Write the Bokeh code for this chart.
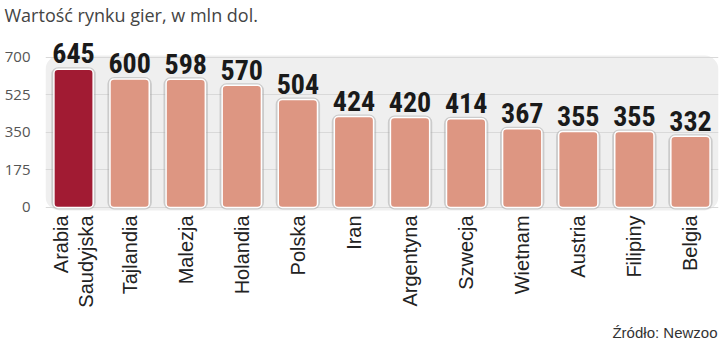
import math
from bokeh.plotting import figure
from bokeh.models import ColumnDataSource, Range1d, FixedTicker, BoxAnnotation, Label
from bokeh.transform import dodge
from bokeh.core.properties import value
from bokeh.embed import file_html
from bokeh.resources import INLINE

countries = ["Arabia Saudyjska", "Tajlandia", "Malezja", "Holandia", "Polska", "Iran",
             "Argentyna", "Szwecja", "Wietnam", "Austria", "Filipiny", "Belgia"]
country_labels = ["Arabia\nSaudyjska", "Tajlandia", "Malezja", "Holandia", "Polska", "Iran",
                  "Argentyna", "Szwecja", "Wietnam", "Austria", "Filipiny", "Belgia"]
values = [645, 600, 598, 570, 504, 424, 420, 414, 367, 355, 355, 332]
y_ticks = [0, 175, 350, 525, 700]
title_text = "Wartość rynku gier, w mln dol."
source_text = "Źródło: Newzoo"

colors = ["#A11B33"] + ["#DD9682"] * (len(countries) - 1)
src = ColumnDataSource(dict(x=countries, top=values, color=colors, name=country_labels,
                            label=[str(v) for v in values], zero=[0] * len(values)))

p = figure(x_range=countries, y_range=Range1d(-621, 826), width=720, height=342,
           output_backend="svg", toolbar_location=None,
           min_border_left=45, min_border_right=2, min_border_top=30, min_border_bottom=2)
p.x_range.range_padding = 0
p.background_fill_color = "white"
p.border_fill_color = "white"
p.outline_line_color = None

p.title.text = title_text
p.title.align = "left"
p.title.vertical_align = "top"
p.title.offset = -41
p.title.standoff = 4
p.title.text_font = "Open Sans"
p.title.text_font_style = "normal"
p.title.text_font_size = "18px"
p.title.text_color = "#444444"

bg = BoxAnnotation(bottom=-14, top=709, fill_color="#EFEFEF", fill_alpha=1, line_color=None,
                   border_radius=14, level="image")
p.add_layout(bg)

p.xgrid.grid_line_color = None
p.ygrid.ticker = FixedTicker(ticks=y_ticks)
p.ygrid.grid_line_color = "#D9D9D9"
p.ygrid.grid_line_width = 1

# shadow
p.vbar(x="x", top="top", bottom=0, width=0.72, source=src, fill_color=None,
       line_color="#A8A8A8", line_alpha=0.5, line_width=4, border_radius=5)
p.vbar(x="x", top="top", bottom=0, width=0.70, source=src, fill_color="color",
       line_color="white", line_width=1.5, border_radius=4)

p.text(x="x", y=dodge("top", 27, range=p.y_range), text="label", source=src,
       text_align="center", text_baseline="bottom",
       text_font=value("Roboto Condensed"),
       text_font_style="bold", text_font_size="28px", text_color="#1A1A1A")

p.text(x="x", y=dodge("zero", -37, range=p.y_range), text="name", source=src,
       angle=math.pi / 2, text_align="right", text_baseline="middle", text_line_height=1.1,
       text_font=value("Liberation Sans"), text_font_size="20px", text_color="#222222")

p.yaxis.ticker = FixedTicker(ticks=y_ticks)
p.yaxis.axis_line_color = None
p.yaxis.major_tick_line_color = None
p.yaxis.minor_tick_line_color = None
p.yaxis.major_label_standoff = 9
p.yaxis.major_label_text_font = "Open Sans"
p.yaxis.major_label_text_font_size = "15px"
p.yaxis.major_label_text_color = "#555555"
p.xaxis.visible = False

p.add_layout(Label(x=672, y=0, x_units="screen", y_units="screen", text=source_text,
                   text_font="Liberation Sans", text_font_size="15px", text_color="#333333",
                   text_baseline="bottom", text_align="right"))

open("out.html", "w").write(file_html(p, INLINE))
